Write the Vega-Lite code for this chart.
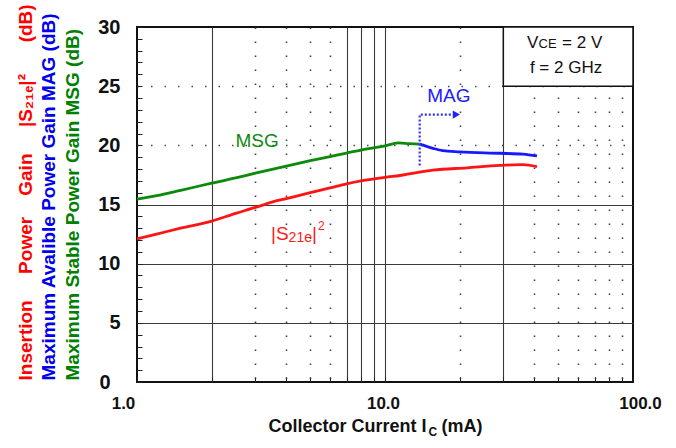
{
  "$schema": "https://vega.github.io/schema/vega-lite/v6.json",
  "width": 496,
  "height": 355,
  "autosize": "none",
  "padding": {"left": 137, "top": 27, "right": 43, "bottom": 66},
  "background": "white",
  "config": {"font": "Liberation Sans", "view": {"stroke": "#111", "strokeWidth": 2}},
  "datasets": {
    "curves": [
      {"Ic": 1.0, "gain": 15.45, "series": "MSG"},
      {"Ic": 1.2, "gain": 15.75, "series": "MSG"},
      {"Ic": 1.5, "gain": 16.2, "series": "MSG"},
      {"Ic": 2.0, "gain": 16.8, "series": "MSG"},
      {"Ic": 2.5, "gain": 17.25, "series": "MSG"},
      {"Ic": 3.0, "gain": 17.65, "series": "MSG"},
      {"Ic": 4.0, "gain": 18.25, "series": "MSG"},
      {"Ic": 5.0, "gain": 18.7, "series": "MSG"},
      {"Ic": 6.0, "gain": 19.05, "series": "MSG"},
      {"Ic": 7.0, "gain": 19.35, "series": "MSG"},
      {"Ic": 8.0, "gain": 19.6, "series": "MSG"},
      {"Ic": 10.0, "gain": 19.95, "series": "MSG"},
      {"Ic": 11.3, "gain": 20.2, "series": "MSG"},
      {"Ic": 12.5, "gain": 20.15, "series": "MSG"},
      {"Ic": 13.8, "gain": 20.1, "series": "MSG"},
      {"Ic": 1.0, "gain": 12.1, "series": "S21"},
      {"Ic": 1.2, "gain": 12.5, "series": "S21"},
      {"Ic": 1.5, "gain": 13.0, "series": "S21"},
      {"Ic": 2.0, "gain": 13.6, "series": "S21"},
      {"Ic": 2.5, "gain": 14.25, "series": "S21"},
      {"Ic": 3.0, "gain": 14.75, "series": "S21"},
      {"Ic": 3.5, "gain": 15.2, "series": "S21"},
      {"Ic": 4.0, "gain": 15.5, "series": "S21"},
      {"Ic": 5.0, "gain": 16.0, "series": "S21"},
      {"Ic": 6.0, "gain": 16.4, "series": "S21"},
      {"Ic": 7.0, "gain": 16.75, "series": "S21"},
      {"Ic": 8.0, "gain": 17.0, "series": "S21"},
      {"Ic": 10.0, "gain": 17.3, "series": "S21"},
      {"Ic": 11.5, "gain": 17.45, "series": "S21"},
      {"Ic": 15.6, "gain": 17.9, "series": "S21"},
      {"Ic": 21.4, "gain": 18.1, "series": "S21"},
      {"Ic": 29.0, "gain": 18.3, "series": "S21"},
      {"Ic": 36.0, "gain": 18.37, "series": "S21"},
      {"Ic": 41.0, "gain": 18.2, "series": "S21"},
      {"Ic": 13.8, "gain": 20.1, "series": "MAG"},
      {"Ic": 15.6, "gain": 19.75, "series": "MAG"},
      {"Ic": 17.1, "gain": 19.55, "series": "MAG"},
      {"Ic": 20.0, "gain": 19.45, "series": "MAG"},
      {"Ic": 29.0, "gain": 19.33, "series": "MAG"},
      {"Ic": 36.0, "gain": 19.25, "series": "MAG"},
      {"Ic": 41.0, "gain": 19.1, "series": "MAG"}
    ],
    "arrow": [
      {"Ic": 13.8, "gain": 18.3, "step": 1},
      {"Ic": 13.8, "gain": 22.6, "step": 2},
      {"Ic": 18.6, "gain": 22.6, "step": 3}
    ]
  },
  "resolve": {"axis": {"x": "independent", "y": "independent"}},
  "layer": [
    {
      "data": {"values": [{"x1": 30, "x2": 100, "y1": 25, "y2": 30}]},
      "mark": {"type": "rect", "fill": "white", "stroke": "#111", "strokeWidth": 1.5},
      "encoding": {
        "x": {"field": "x1", "type": "quantitative", "scale": {"type": "log", "domain": [1, 100]}, "axis": null},
        "x2": {"field": "x2"},
        "y": {"field": "y1", "type": "quantitative", "scale": {"domain": [0, 30]},
          "axis": {"orient": "left", "domain": false, "ticks": false, "labels": false, "grid": false,
            "title": "Maximum Avalible Power Gain MAG (dB)", "titleColor": "#0000ee", "titleFontSize": 19,
            "titleFontWeight": "bold", "titleAngle": -90, "titleAlign": "left", "titleBaseline": "middle",
            "titleX": -89, "titleY": 353}},
        "y2": {"field": "y2"}
      }
    },
    {
      "data": {"name": "curves"},
      "mark": {"type": "line", "strokeWidth": 2.8, "interpolate": "monotone"},
      "encoding": {
        "x": {"field": "Ic", "type": "quantitative", "scale": {"type": "log", "domain": [1, 100]},
          "axis": {"orient": "bottom",
            "values": [1, 2, 3, 4, 5, 6, 7, 8, 9, 10, 20, 30, 40, 50, 60, 70, 80, 90, 100],
            "labelExpr": "datum.value == 1 || datum.value == 10 || datum.value == 100 ? format(datum.value, '.1f') : ''",
            "labelOffset": {"condition": [{"test": "datum.value == 1", "value": -14}, {"test": "datum.value == 100", "value": 7}], "value": -2},
            "labelFlush": false, "labelOverlap": false,
            "labelFontSize": 17, "labelFontWeight": "bold", "labelColor": "#111", "labelPadding": 18,
            "tickSize": -5, "tickColor": "#222", "tickWidth": 1,
            "domain": false, "grid": true,
            "gridDash": {"condition": {"test": "indexof([3,4,5,6,20,40,50,60,70,80,90], datum.value) >= 0", "value": [1.5, 12.5]}, "value": []},
            "gridColor": {"condition": {"test": "indexof([3,4,5,6,20,40,50,60,70,80,90], datum.value) >= 0", "value": "#444"}, "value": "#3a3a3a"},
            "gridOpacity": {"condition": {"test": "datum.value == 1 || datum.value == 100", "value": 0}, "value": 1},
            "gridWidth": {"condition": {"test": "indexof([3,4,5,6,20,40,50,60,70,80,90], datum.value) >= 0", "value": 1.6}, "value": 1.1},
            "title": "Collector Current I", "titleFontSize": 18, "titleFontWeight": "bold", "titleColor": "#111",
            "titleAlign": "left", "titleBaseline": "alphabetic", "titleAngle": 0, "titleX": 131, "titleY": 49}},
        "y": {"field": "gain", "type": "quantitative", "scale": {"domain": [0, 30]},
          "axis": {"orient": "left",
            "values": [0, 1, 2, 3, 4, 5, 6, 7, 8, 9, 10, 11, 12, 13, 14, 15, 16, 17, 18, 19, 20, 21, 22, 23, 24, 25, 26, 27, 28, 29, 30],
            "labelExpr": "datum.value % 5 == 0 ? datum.label : ''",
            "labelOverlap": false, "labelFlush": false,
            "labelFontSize": 20, "labelFontWeight": "bold", "labelColor": "#111",
            "labelPadding": {"condition": {"test": "datum.value == 0", "value": 32}, "value": 22},
            "tickSize": -5, "tickColor": "#222", "tickWidth": 1,
            "domain": false, "grid": true,
            "gridDash": {"condition": {"test": "datum.value >= 20", "value": [1.5, 12]}, "value": []},
            "gridColor": {"condition": {"test": "datum.value >= 20", "value": "#444"}, "value": "#3a3a3a"},
            "gridOpacity": {"condition": {"test": "datum.value % 5 != 0 || datum.value == 0 || datum.value == 30", "value": 0}, "value": 1},
            "gridWidth": {"condition": {"test": "datum.value >= 20", "value": 1.6}, "value": 1.1},
            "title": "Insertion\u00a0\u00a0\u00a0\u00a0\u00a0Power\u00a0\u00a0\u00a0\u00a0Gain\u00a0\u00a0\u00a0\u00a0\u00a0|S₂₁ₑ|²\u00a0\u00a0\u00a0\u00a0\u00a0\u00a0(dB)", "titleColor": "#ff0000", "titleFontSize": 19,
            "titleFontWeight": "bold", "titleAngle": -90, "titleAlign": "left", "titleBaseline": "middle",
            "titleX": -112, "titleY": 353}},
        "color": {"field": "series", "type": "nominal",
          "scale": {"domain": ["MSG", "S21", "MAG"], "range": ["#0c8a0c", "#ff1414", "#1818ff"]}, "legend": null}
      }
    },
    {
      "data": {"name": "arrow"},
      "mark": {"type": "line", "color": "#3030ff", "strokeWidth": 2.2, "strokeDash": [2, 2]},
      "encoding": {
        "x": {"field": "Ic", "type": "quantitative", "scale": {"type": "log", "domain": [1, 100]}, "axis": null},
        "y": {"field": "gain", "type": "quantitative", "scale": {"domain": [0, 30]}, "axis": null},
        "order": {"field": "step", "type": "quantitative"}
      }
    },
    {
      "data": {"values": [{"Ic": 19.4, "gain": 22.6}]},
      "mark": {"type": "point", "shape": "triangle-right", "filled": true, "color": "#2020ff", "size": 70, "opacity": 1},
      "encoding": {
        "x": {"field": "Ic", "type": "quantitative", "scale": {"type": "log", "domain": [1, 100]}, "axis": null},
        "y": {"field": "gain", "type": "quantitative", "scale": {"domain": [0, 30]}, "axis": null}
      }
    },
    {
      "data": {"values": [{"Ic": 3.05, "gain": 20.37, "label": "MSG"}]},
      "mark": {"type": "text", "color": "#108a10", "fontSize": 19, "align": "center", "baseline": "middle"},
      "encoding": {
        "x": {"field": "Ic", "type": "quantitative", "scale": {"type": "log", "domain": [1, 100]},
          "axis": {"orient": "bottom", "domain": false, "ticks": false, "labels": false, "grid": false,
            "title": "C", "titleFontSize": 12, "titleFontWeight": "bold", "titleColor": "#111",
            "titleAlign": "left", "titleBaseline": "alphabetic", "titleAngle": 0, "titleX": 291, "titleY": 53}},
        "y": {"field": "gain", "type": "quantitative", "scale": {"domain": [0, 30]},
          "axis": {"orient": "left", "domain": false, "ticks": false, "labels": false, "grid": false,
            "title": "Maximum Stable Power Gain MSG (dB)", "titleColor": "#008000", "titleFontSize": 19,
            "titleFontWeight": "bold", "titleAngle": -90, "titleAlign": "left", "titleBaseline": "middle",
            "titleX": -65, "titleY": 353}},
        "text": {"field": "label"}
      }
    },
    {
      "data": {"values": [{"Ic": 18.1, "gain": 24.15, "label": "MAG"}]},
      "mark": {"type": "text", "color": "#1a1aff", "fontSize": 19, "align": "center", "baseline": "middle"},
      "encoding": {
        "x": {"field": "Ic", "type": "quantitative", "scale": {"type": "log", "domain": [1, 100]},
          "axis": {"orient": "bottom", "domain": false, "ticks": false, "labels": false, "grid": false,
            "title": "(mA)", "titleFontSize": 18, "titleFontWeight": "bold", "titleColor": "#111",
            "titleAlign": "left", "titleBaseline": "alphabetic", "titleAngle": 0, "titleX": 304, "titleY": 49}},
        "y": {"field": "gain", "type": "quantitative", "scale": {"domain": [0, 30]}, "axis": null},
        "text": {"field": "label"}
      }
    },
    {
      "data": {"values": [{"Ic": 3.47, "gain": 12.04, "label": "|S"}]},
      "mark": {"type": "text", "color": "#ff1a1a", "fontSize": 19, "align": "left", "baseline": "alphabetic"},
      "encoding": {
        "x": {"field": "Ic", "type": "quantitative", "scale": {"type": "log", "domain": [1, 100]}, "axis": null},
        "y": {"field": "gain", "type": "quantitative", "scale": {"domain": [0, 30]}, "axis": null},
        "text": {"field": "label"}
      }
    },
    {
      "data": {"values": [{"Ic": 3.47, "gain": 12.04, "label": "21e"}]},
      "mark": {"type": "text", "color": "#ff1a1a", "fontSize": 14, "align": "left", "baseline": "alphabetic", "dx": 17.6, "dy": 2.5},
      "encoding": {
        "x": {"field": "Ic", "type": "quantitative", "scale": {"type": "log", "domain": [1, 100]}, "axis": null},
        "y": {"field": "gain", "type": "quantitative", "scale": {"domain": [0, 30]}, "axis": null},
        "text": {"field": "label"}
      }
    },
    {
      "data": {"values": [{"Ic": 3.47, "gain": 12.04, "label": "|"}]},
      "mark": {"type": "text", "color": "#ff1a1a", "fontSize": 19, "align": "left", "baseline": "alphabetic", "dx": 41},
      "encoding": {
        "x": {"field": "Ic", "type": "quantitative", "scale": {"type": "log", "domain": [1, 100]}, "axis": null},
        "y": {"field": "gain", "type": "quantitative", "scale": {"domain": [0, 30]}, "axis": null},
        "text": {"field": "label"}
      }
    },
    {
      "data": {"values": [{"Ic": 3.47, "gain": 12.04, "label": "2"}]},
      "mark": {"type": "text", "color": "#ff1a1a", "fontSize": 12, "align": "left", "baseline": "alphabetic", "dx": 47, "dy": -10},
      "encoding": {
        "x": {"field": "Ic", "type": "quantitative", "scale": {"type": "log", "domain": [1, 100]}, "axis": null},
        "y": {"field": "gain", "type": "quantitative", "scale": {"domain": [0, 30]}, "axis": null},
        "text": {"field": "label"}
      }
    },
    {
      "data": {"values": [{"Ic": 37.4, "gain": 28.23, "label": "V"}]},
      "mark": {"type": "text", "color": "#111", "fontSize": 17, "align": "left", "baseline": "alphabetic"},
      "encoding": {
        "x": {"field": "Ic", "type": "quantitative", "scale": {"type": "log", "domain": [1, 100]}, "axis": null},
        "y": {"field": "gain", "type": "quantitative", "scale": {"domain": [0, 30]}, "axis": null},
        "text": {"field": "label"}
      }
    },
    {
      "data": {"values": [{"Ic": 37.4, "gain": 28.23, "label": "CE"}]},
      "mark": {"type": "text", "color": "#111", "fontSize": 13, "align": "left", "baseline": "alphabetic", "dx": 11.5},
      "encoding": {
        "x": {"field": "Ic", "type": "quantitative", "scale": {"type": "log", "domain": [1, 100]}, "axis": null},
        "y": {"field": "gain", "type": "quantitative", "scale": {"domain": [0, 30]}, "axis": null},
        "text": {"field": "label"}
      }
    },
    {
      "data": {"values": [{"Ic": 37.4, "gain": 28.23, "label": "= 2 V"}]},
      "mark": {"type": "text", "color": "#111", "fontSize": 17, "align": "left", "baseline": "alphabetic", "dx": 35},
      "encoding": {
        "x": {"field": "Ic", "type": "quantitative", "scale": {"type": "log", "domain": [1, 100]}, "axis": null},
        "y": {"field": "gain", "type": "quantitative", "scale": {"domain": [0, 30]}, "axis": null},
        "text": {"field": "label"}
      }
    },
    {
      "data": {"values": [{"Ic": 38.4, "gain": 26.12, "label": "f = 2 GHz"}]},
      "mark": {"type": "text", "color": "#111", "fontSize": 17, "align": "left", "baseline": "alphabetic"},
      "encoding": {
        "x": {"field": "Ic", "type": "quantitative", "scale": {"type": "log", "domain": [1, 100]}, "axis": null},
        "y": {"field": "gain", "type": "quantitative", "scale": {"domain": [0, 30]}, "axis": null},
        "text": {"field": "label"}
      }
    }
  ]
}
